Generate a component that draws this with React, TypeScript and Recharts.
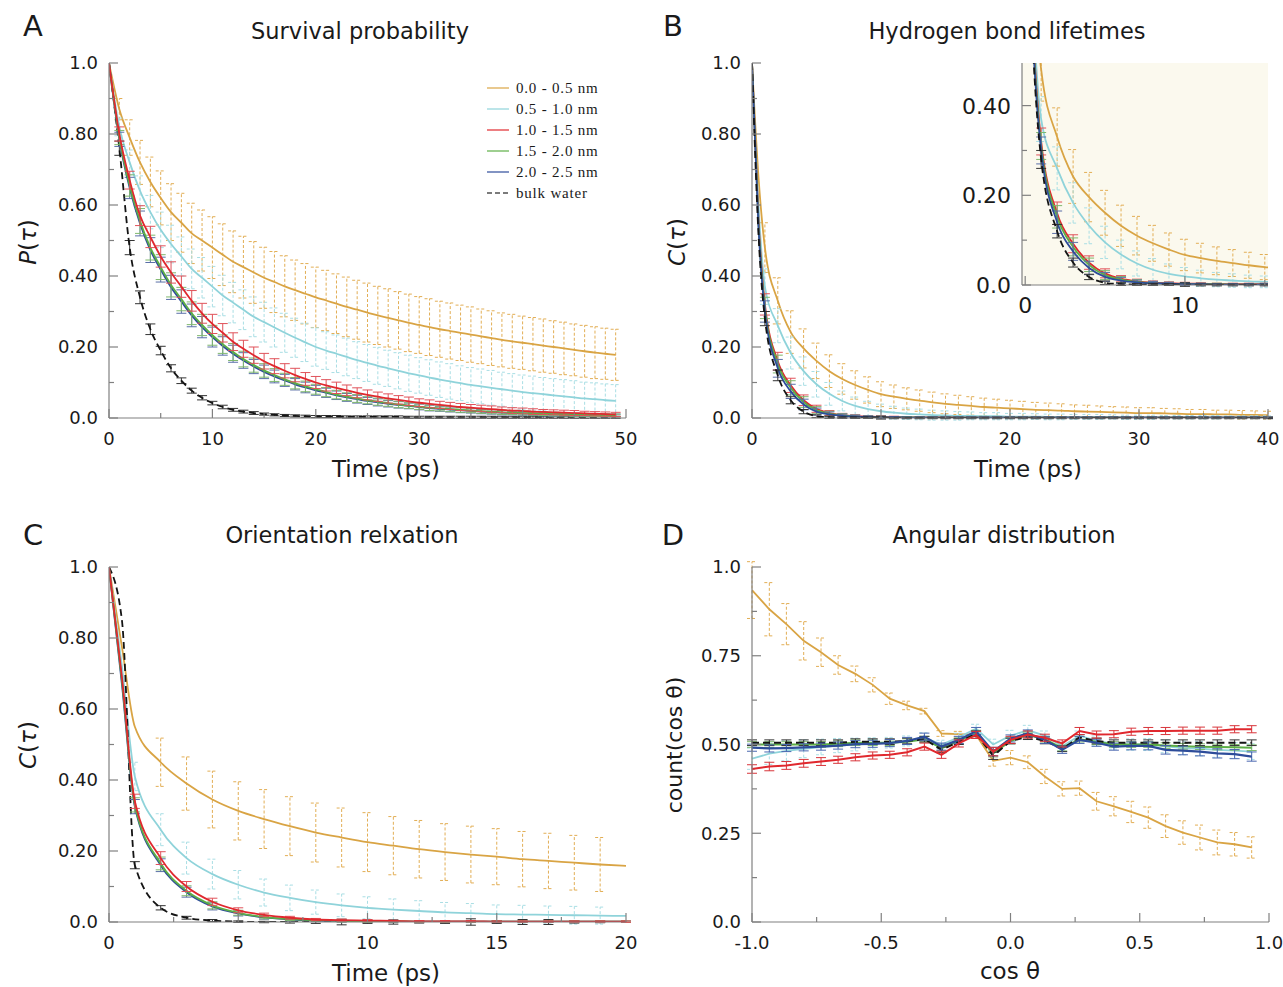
import { LineChart, Line, XAxis, YAxis, ErrorBar, CartesianGrid } from "recharts";

const AXIS = "#808080";
const INK = "#1a1a1a";
const SANS = '"DejaVu Sans", sans-serif';
const SERIF = '"Liberation Serif", serif';

const ORANGE = "#d9a444";
const CYAN = "#8fd3da";
const RED = "#e0282e";
const GREEN = "#5cae45";
const BLUE = "#2d4c9a";
const BULK = "#141414";

const seriesNames = ["0.0 - 0.5 nm", "0.5 - 1.0 nm", "1.0 - 1.5 nm", "1.5 - 2.0 nm", "2.0 - 2.5 nm", "bulk water"];

// ---- A: survival probability ----
const aTime = [0,1,2,3,4,5,6,7,8,9,10,11,12,13,14,15,16,17,18,19,20,21,22,23,24,25,26,27,28,29,30,31,32,33,34,35,36,37,38,39,40,41,42,43,44,45,46,47,48,49];
const aOrange = [1.0,0.87,0.79,0.72,0.665,0.62,0.58,0.55,0.52,0.5,0.48,0.46,0.44,0.425,0.41,0.395,0.383,0.371,0.36,0.35,0.34,0.331,0.322,0.313,0.305,0.297,0.289,0.282,0.275,0.268,0.262,0.256,0.25,0.245,0.24,0.235,0.23,0.225,0.22,0.216,0.212,0.208,0.204,0.2,0.196,0.192,0.188,0.184,0.181,0.178];
const aOrangeErr = [0,0.03,0.05,0.062,0.07,0.076,0.08,0.083,0.085,0.086,0.087,0.087,0.087,0.087,0.087,0.086,0.086,0.086,0.085,0.085,0.085,0.085,0.084,0.084,0.083,0.083,0.082,0.082,0.081,0.081,0.08,0.08,0.079,0.079,0.078,0.078,0.077,0.077,0.076,0.076,0.075,0.075,0.075,0.074,0.074,0.073,0.073,0.073,0.072,0.072];
const aCyan = [1.0,0.82,0.72,0.64,0.58,0.53,0.49,0.455,0.42,0.395,0.37,0.345,0.325,0.305,0.285,0.27,0.255,0.24,0.226,0.213,0.2,0.19,0.181,0.172,0.163,0.155,0.147,0.14,0.133,0.126,0.12,0.114,0.108,0.103,0.098,0.093,0.089,0.085,0.081,0.077,0.073,0.07,0.067,0.064,0.061,0.058,0.055,0.053,0.05,0.048];
const aCyanErr = [0,0.025,0.035,0.042,0.047,0.05,0.053,0.055,0.056,0.057,0.057,0.057,0.057,0.056,0.056,0.056,0.055,0.055,0.055,0.054,0.054,0.053,0.053,0.053,0.052,0.052,0.052,0.051,0.051,0.051,0.05,0.05,0.05,0.05,0.049,0.049,0.049,0.049,0.048,0.048,0.048,0.048,0.047,0.047,0.047,0.047,0.046,0.046,0.046,0.046];
const aRed = [1.0,0.8,0.67,0.57,0.51,0.455,0.41,0.37,0.33,0.295,0.265,0.24,0.215,0.195,0.177,0.16,0.146,0.133,0.121,0.11,0.1,0.092,0.085,0.078,0.071,0.065,0.06,0.055,0.051,0.047,0.043,0.04,0.037,0.034,0.031,0.029,0.027,0.025,0.023,0.021,0.02,0.018,0.017,0.016,0.015,0.014,0.013,0.012,0.011,0.01];
const aRedErr = [0,0.02,0.025,0.028,0.03,0.03,0.03,0.03,0.029,0.028,0.027,0.026,0.025,0.024,0.023,0.022,0.021,0.02,0.019,0.018,0.017,0.016,0.016,0.015,0.014,0.014,0.013,0.013,0.012,0.012,0.011,0.011,0.01,0.01,0.01,0.009,0.009,0.009,0.008,0.008,0.008,0.008,0.007,0.007,0.007,0.007,0.006,0.006,0.006,0.006];
const aGreen = [1.0,0.79,0.655,0.555,0.48,0.425,0.375,0.335,0.295,0.262,0.233,0.208,0.186,0.166,0.149,0.134,0.121,0.109,0.098,0.089,0.081,0.073,0.066,0.06,0.055,0.05,0.046,0.042,0.038,0.035,0.032,0.029,0.027,0.025,0.023,0.021,0.019,0.018,0.016,0.015,0.014,0.013,0.012,0.011,0.01,0.009,0.009,0.008,0.008,0.007];
const aBlue = [1.0,0.785,0.648,0.548,0.473,0.418,0.368,0.328,0.289,0.256,0.228,0.203,0.181,0.162,0.145,0.13,0.117,0.106,0.095,0.086,0.078,0.071,0.064,0.058,0.053,0.048,0.044,0.04,0.037,0.034,0.031,0.028,0.026,0.024,0.022,0.02,0.018,0.017,0.015,0.014,0.013,0.012,0.011,0.01,0.01,0.009,0.008,0.008,0.007,0.007];
const aInnerErr = [0,0.02,0.03,0.035,0.035,0.035,0.034,0.033,0.032,0.03,0.028,0.026,0.024,0.022,0.02,0.019,0.018,0.017,0.016,0.015,0.014,0.013,0.012,0.011,0.011,0.01,0.01,0.009,0.009,0.008,0.008,0.008,0.007,0.007,0.007,0.006,0.006,0.006,0.006,0.005,0.005,0.005,0.005,0.005,0.004,0.004,0.004,0.004,0.004,0.004];
const aBulk = [1.0,0.76,0.48,0.34,0.25,0.19,0.14,0.105,0.077,0.057,0.042,0.031,0.023,0.018,0.014,0.011,0.009,0.007,0.006,0.005,0.004,0.004,0.004,0.003,0.003,0.003,0.003,0.003,0.003,0.002,0.002,0.002,0.002,0.002,0.002,0.002,0.002,0.002,0.002,0.002,0.002,0.002,0.002,0.002,0.002,0.002,0.002,0.002,0.002,0.002];
const aBulkErr = [0,0.02,0.02,0.018,0.015,0.012,0.01,0.008,0.007,0.006,0.005,0.005,0.004,0.004,0.004,0.003,0.003,0.003,0.003,0.003,0.003,0.003,0.003,0.003,0.003,0.003,0.003,0.003,0.003,0.003,0.003,0.003,0.003,0.003,0.003,0.003,0.003,0.003,0.003,0.003,0.003,0.003,0.003,0.003,0.003,0.003,0.003,0.003,0.003,0.003];

// ---- B: hydrogen bond lifetimes ----
const bTime = [0,0.5,1,2,3,4,5,6,7,8,9,10,11,12,13,14,15,16,17,18,19,20,21,22,23,24,25,26,27,28,29,30,31,32,33,34,35,36,37,38,39,40];
const bOrange = [1.0,0.68,0.48,0.33,0.242,0.196,0.161,0.132,0.11,0.093,0.079,0.067,0.06,0.054,0.049,0.044,0.04,0.037,0.034,0.031,0.029,0.027,0.025,0.023,0.022,0.021,0.019,0.018,0.017,0.016,0.015,0.014,0.014,0.013,0.012,0.011,0.011,0.01,0.01,0.009,0.009,0.008];
const bOrangeErr = [0,0,0.07,0.065,0.06,0.055,0.05,0.046,0.043,0.04,0.037,0.035,0.033,0.031,0.03,0.029,0.028,0.027,0.026,0.025,0.024,0.023,0.022,0.021,0.02,0.019,0.018,0.018,0.017,0.016,0.016,0.015,0.015,0.014,0.014,0.013,0.013,0.012,0.012,0.012,0.011,0.011];
const bCyan = [1.0,0.6,0.37,0.26,0.183,0.132,0.095,0.068,0.048,0.034,0.025,0.019,0.015,0.012,0.01,0.008,0.007,0.006,0.006,0.005,0.005,0.004,0.004,0.004,0.003,0.003,0.003,0.003,0.003,0.003,0.002,0.002,0.002,0.002,0.002,0.002,0.002,0.002,0.002,0.002,0.002,0.002];
const bCyanErr = [0,0,0.05,0.048,0.045,0.04,0.036,0.032,0.028,0.025,0.022,0.02,0.018,0.016,0.015,0.014,0.013,0.012,0.011,0.01,0.01,0.009,0.009,0.008,0.008,0.008,0.007,0.007,0.007,0.006,0.006,0.006,0.006,0.005,0.005,0.005,0.005,0.005,0.004,0.004,0.004,0.004];
const bRed = [1.0,0.56,0.32,0.16,0.092,0.05,0.026,0.014,0.008,0.005,0.004,0.003,0.003,0.002,0.002,0.002,0.002,0.001,0.001,0.001,0.001,0.001,0.001,0.001,0.001,0.001,0.001,0.001,0.001,0.001,0.001,0.001,0.001,0.001,0.001,0.001,0.001,0.001,0.001,0.001,0.001,0.001];
const bGreen = [1.0,0.55,0.31,0.152,0.085,0.045,0.022,0.012,0.007,0.004,0.003,0.002,0.002,0.002,0.001,0.001,0.001,0.001,0.001,0.001,0.001,0.001,0.001,0.001,0.001,0.001,0.001,0.001,0.001,0.001,0.001,0.001,0.001,0.001,0.001,0.001,0.001,0.001,0.001,0.001,0.001,0.001];
const bBlue = [1.0,0.54,0.3,0.14,0.075,0.038,0.018,0.01,0.006,0.004,0.003,0.002,0.002,0.001,0.001,0.001,0.001,0.001,0.001,0.001,0.001,0.001,0.001,0.001,0.001,0.001,0.001,0.001,0.001,0.001,0.001,0.001,0.001,0.001,0.001,0.001,0.001,0.001,0.001,0.001,0.001,0.001];
const bInnerErr = [0,0,0.03,0.025,0.02,0.015,0.01,0.007,0.005,0.004,0.003,0.003,0.002,0.002,0.002,0.002,0.002,0.002,0.002,0.002,0.002,0.002,0.002,0.002,0.002,0.002,0.002,0.002,0.002,0.002,0.002,0.002,0.002,0.002,0.002,0.002,0.002,0.002,0.002,0.002,0.002,0.002];
const bBulk = [1.0,0.52,0.28,0.12,0.05,0.018,0.005,0.002,0.001,0.001,0.001,0.001,0,0,0,0,0,0,0,0,0,0,0,0,0,0,0,0,0,0,0,0,0,0,0,0,0,0,0,0,0,0];
const bBulkErr = [0,0,0.02,0.015,0.01,0.006,0.004,0.003,0.002,0.002,0.002,0.004,0.002,0.002,0.002,0.002,0.002,0.002,0.002,0.002,0.002,0.002,0.002,0.002,0.002,0.002,0.002,0.002,0.002,0.002,0.002,0.002,0.002,0.002,0.002,0.002,0.002,0.002,0.002,0.002,0.002,0.002];

// ---- C: orientation relaxation ----
const cTime = [0,0.5,1,2,3,4,5,6,7,8,9,10,11,12,13,14,15,16,17,18,19,20];
const cOrange = [1.0,0.775,0.55,0.45,0.39,0.345,0.313,0.29,0.27,0.252,0.238,0.225,0.215,0.205,0.197,0.19,0.184,0.177,0.172,0.167,0.162,0.158];
const cOrangeErr = [0,0,0,0.068,0.075,0.08,0.082,0.083,0.083,0.083,0.083,0.083,0.082,0.081,0.08,0.08,0.079,0.078,0.078,0.077,0.076,0];
const cCyan = [1.0,0.72,0.41,0.26,0.18,0.135,0.105,0.083,0.068,0.056,0.047,0.04,0.035,0.031,0.027,0.025,0.022,0.021,0.02,0.019,0.018,0.017];
const cCyanErr = [0,0,0.04,0.045,0.045,0.042,0.04,0.038,0.036,0.034,0.032,0.031,0.03,0.029,0.028,0.027,0.026,0.026,0.025,0.025,0.024,0];
const cRed = [1.0,0.69,0.34,0.18,0.1,0.057,0.033,0.02,0.012,0.007,0.005,0.004,0.003,0.002,0.002,0.002,0.001,0.001,0.001,0.001,0.001,0.001];
const cGreen = [1.0,0.68,0.33,0.165,0.088,0.047,0.026,0.014,0.008,0.005,0.003,0.002,0.002,0.001,0.001,0.001,0.001,0.001,0.001,0.001,0.001,0.001];
const cBlue = [1.0,0.67,0.325,0.16,0.084,0.044,0.024,0.013,0.007,0.004,0.003,0.002,0.001,0.001,0.001,0.001,0.001,0.001,0.001,0.001,0.001,0.001];
const cInnerErr = [0,0,0.02,0.018,0.014,0.01,0.007,0.005,0.004,0.003,0.003,0.003,0.002,0.002,0.002,0.002,0.002,0.002,0.002,0.002,0.002,0.002];
const cBulk = [1.0,0.85,0.16,0.04,0.012,0.004,0.001,0,0,0,0,0,0,0,0,0,0,0,0,0,0,0];
const cBulkErr = [0,0,0.01,0.006,0.004,0.003,0.002,0.002,0.003,0.004,0.008,0.004,0.006,0.003,0.004,0.009,0.004,0.007,0.007,0.003,0.002,0];

// ---- D: angular distribution ----
const dCos = [-1.0,-0.933,-0.867,-0.8,-0.733,-0.667,-0.6,-0.533,-0.467,-0.4,-0.333,-0.267,-0.2,-0.133,-0.067,0.0,0.067,0.133,0.2,0.267,0.333,0.4,0.467,0.533,0.6,0.667,0.733,0.8,0.867,0.933];
const dOrange = [0.935,0.881,0.839,0.792,0.76,0.724,0.699,0.668,0.629,0.61,0.594,0.531,0.529,0.527,0.454,0.463,0.45,0.41,0.375,0.377,0.34,0.326,0.31,0.294,0.27,0.252,0.238,0.224,0.219,0.21];
const dOrangeErr = [0.08,0.075,0.058,0.054,0.04,0.026,0.022,0.02,0.016,0.012,0.008,0.008,0.008,0.01,0.015,0.02,0.018,0.02,0.02,0.02,0.025,0.027,0.03,0.03,0.032,0.033,0.035,0.035,0.033,0.03];
const dCyan = [0.46,0.474,0.482,0.488,0.493,0.497,0.5,0.503,0.505,0.51,0.52,0.5,0.52,0.545,0.5,0.525,0.54,0.525,0.495,0.525,0.51,0.502,0.5,0.5,0.495,0.49,0.488,0.485,0.483,0.48];
const dCyanErr = [0.03,0.03,0.028,0.025,0.022,0.02,0.018,0.016,0.015,0.014,0.013,0.012,0.012,0.012,0.015,0.015,0.014,0.013,0.013,0.013,0.014,0.015,0.016,0.017,0.018,0.019,0.02,0.021,0.022,0.022];
const dRed = [0.431,0.438,0.441,0.447,0.452,0.457,0.464,0.469,0.471,0.478,0.494,0.471,0.503,0.527,0.48,0.513,0.528,0.519,0.503,0.538,0.528,0.529,0.536,0.538,0.538,0.539,0.539,0.539,0.543,0.543];
const dRedErr = [0.012,0.012,0.011,0.011,0.011,0.01,0.01,0.01,0.01,0.01,0.01,0.01,0.01,0.01,0.012,0.01,0.01,0.01,0.01,0.01,0.01,0.01,0.01,0.01,0.01,0.01,0.01,0.01,0.01,0.01];
const dGreen = [0.5,0.5,0.5,0.5,0.5,0.502,0.505,0.505,0.505,0.508,0.515,0.49,0.51,0.532,0.475,0.51,0.527,0.515,0.49,0.515,0.508,0.5,0.5,0.5,0.497,0.495,0.494,0.493,0.492,0.491];
const dGreenErr = [0.008,0.008,0.008,0.008,0.008,0.008,0.008,0.008,0.008,0.008,0.008,0.008,0.008,0.008,0.01,0.008,0.008,0.008,0.008,0.008,0.008,0.008,0.008,0.008,0.008,0.008,0.008,0.008,0.008,0.008];
const dBlue = [0.491,0.489,0.49,0.492,0.494,0.497,0.501,0.502,0.504,0.51,0.522,0.494,0.513,0.538,0.48,0.517,0.531,0.513,0.485,0.513,0.505,0.494,0.496,0.496,0.485,0.483,0.48,0.475,0.473,0.466];
const dBlueErr = [0.01,0.01,0.01,0.01,0.01,0.01,0.01,0.01,0.01,0.01,0.01,0.01,0.01,0.01,0.012,0.01,0.01,0.01,0.01,0.01,0.01,0.01,0.011,0.011,0.012,0.012,0.012,0.013,0.013,0.013];
const dBulk = [0.505,0.505,0.505,0.505,0.505,0.505,0.508,0.508,0.508,0.51,0.515,0.485,0.508,0.53,0.468,0.51,0.522,0.51,0.488,0.52,0.51,0.505,0.505,0.505,0.505,0.505,0.505,0.505,0.505,0.505];

// ---- ticks ----
const aXTicks = [0,5,10,15,20,25,30,35,40,45,50];
const bXTicks = [0,5,10,15,20,25,30,35,40];
const cXTicks = [0,2.5,5,7.5,10,12.5,15,17.5,20];
const dXTicks = [-1,-0.75,-0.5,-0.25,0,0.25,0.5,0.75,1];
const pYTicks = [0,0.1,0.2,0.3,0.4,0.5,0.6,0.7,0.8,0.9,1.0];
const dYTicks = [0,0.125,0.25,0.375,0.5,0.625,0.75,0.875,1.0];
const insetXTicks = [0,5,10,15];
const insetYTicks = [0,0.1,0.2,0.3,0.4];

type Row = { x: number; y: number; e: number };
type Series = { color: string; errColor: string; data: Row[]; dash?: string; errDash?: string; width?: number };

const rows = (xs: number[], ys: number[], es: number[]): Row[] =>
  xs.map((x, i) => ({ x, y: ys[i], e: es[i] ?? 0 }));

const isMajor = (v: number, step: number) => Math.abs(v / step - Math.round(v / step)) < 1e-6;
const fmtTime = (v: number) => String(v);
const fmtP = (v: number) => (v === 0 || v === 1 ? v.toFixed(1) : v.toFixed(2));
const fmtCos = (v: number) => v.toFixed(1);

function xTick(step: number, fmt: (v: number) => string, side: "bottom" | "top", size = 18, gap = 14) {
  return (p: any) => {
    const { x, y, payload } = p;
    const major = isMajor(payload.value, step);
    const len = major ? 9 : 5;
    const dir = side === "bottom" ? -1 : 1;
    return (
      <g>
        <line x1={x} x2={x} y1={y} y2={y + dir * len} stroke={AXIS} strokeWidth={1.2} />
        {side === "bottom" && major && (
          <text x={x} y={y + gap} dy="0.71em" textAnchor="middle" fontFamily={SANS} fontSize={size} fill={INK}>
            {fmt(payload.value)}
          </text>
        )}
      </g>
    );
  };
}

function yTick(step: number, fmt: (v: number) => string, side: "left" | "right", size = 18, gap = 11) {
  return (p: any) => {
    const { x, y, payload } = p;
    const major = isMajor(payload.value, step);
    const len = major ? 9 : 5;
    const dir = side === "left" ? 1 : -1;
    return (
      <g>
        <line x1={x} x2={x + dir * len} y1={y} y2={y} stroke={AXIS} strokeWidth={1.2} />
        {side === "left" && major && (
          <text x={x - gap} y={y} dy="0.36em" textAnchor="end" fontFamily={SANS} fontSize={size} fill={INK}>
            {fmt(payload.value)}
          </text>
        )}
      </g>
    );
  };
}

type PanelProps = {
  left: number; top: number; width: number; height: number;
  mTop: number; mRight: number; yW: number; xH: number;
  xDomain: [number, number]; yDomain: [number, number];
  xTicks: number[]; yTicks: number[]; xStep: number; yStep: number;
  xFmt: (v: number) => string; yFmt: (v: number) => string;
  series: Series[]; curve: "monotone" | "linear";
  box?: boolean; fill?: string; labelSize?: number; xGap?: number; clip?: string;
};

function Panel(p: PanelProps) {
  const axisLine = { stroke: AXIS, strokeWidth: 1.2 };
  const size = p.labelSize ?? 18;
  return (
    <div style={{ position: "absolute", left: p.left, top: p.top, clipPath: p.clip }}>
      <LineChart width={p.width} height={p.height} margin={{ top: p.mTop, right: p.mRight, bottom: 0, left: 0 }}>
        {p.fill && <CartesianGrid fill={p.fill} fillOpacity={1} horizontal={false} vertical={false} />}
        <XAxis xAxisId={0} type="number" dataKey="x" domain={p.xDomain} allowDataOverflow ticks={p.xTicks} interval={0}
          height={p.xH} tickSize={0} tickMargin={0} tickLine={false} axisLine={axisLine}
          tick={xTick(p.xStep, p.xFmt, "bottom", size, p.xGap ?? 14)} />
        <YAxis yAxisId={0} type="number" domain={p.yDomain} allowDataOverflow ticks={p.yTicks} interval={0}
          width={p.yW} tickSize={0} tickMargin={0} tickLine={false} axisLine={axisLine}
          tick={yTick(p.yStep, p.yFmt, "left", size)} />
        {p.box && (
          <XAxis xAxisId="t" orientation="top" type="number" domain={p.xDomain} allowDataOverflow ticks={p.xTicks}
            interval={0} height={0} tickSize={0} tickMargin={0} tickLine={false} axisLine={axisLine}
            tick={xTick(p.xStep, p.xFmt, "top")} />
        )}
        {p.box && (
          <YAxis yAxisId="r" orientation="right" type="number" domain={p.yDomain} allowDataOverflow ticks={p.yTicks}
            interval={0} width={0} tickSize={0} tickMargin={0} tickLine={false} axisLine={axisLine}
            tick={yTick(p.yStep, p.yFmt, "right")} />
        )}
        {p.series.map((s, i) => (
          <Line key={i} data={s.data} dataKey="y" type={p.curve} stroke={s.color} strokeWidth={s.width ?? 1.8}
            strokeDasharray={s.dash} dot={false} activeDot={false} isAnimationActive={false}>
            <ErrorBar dataKey="e" width={5} stroke={s.errColor} strokeWidth={1} strokeDasharray={s.errDash} />
          </Line>
        ))}
      </LineChart>
    </div>
  );
}

const seriesA: Series[] = [
  { color: ORANGE, errColor: "#e2ae55", errDash: "3 2", data: rows(aTime, aOrange, aOrangeErr) },
  { color: CYAN, errColor: "#a9dee4", errDash: "3 2", data: rows(aTime, aCyan, aCyanErr) },
  { color: BULK, errColor: "#333", dash: "7 4", data: rows(aTime, aBulk, aBulkErr) },
  { color: BLUE, errColor: "#5a6fa8", data: rows(aTime, aBlue, aInnerErr) },
  { color: GREEN, errColor: "#7fb86d", data: rows(aTime, aGreen, aInnerErr) },
  { color: RED, errColor: "#e0525a", data: rows(aTime, aRed, aRedErr) },
];

const seriesB: Series[] = [
  { color: ORANGE, errColor: "#e2ae55", errDash: "3 2", data: rows(bTime, bOrange, bOrangeErr) },
  { color: CYAN, errColor: "#a9dee4", errDash: "3 2", data: rows(bTime, bCyan, bCyanErr) },
  { color: RED, errColor: "#e0525a", data: rows(bTime, bRed, bInnerErr) },
  { color: GREEN, errColor: "#7fb86d", data: rows(bTime, bGreen, bInnerErr) },
  { color: BLUE, errColor: "#5a6fa8", data: rows(bTime, bBlue, bInnerErr) },
  { color: BULK, errColor: "#333", dash: "7 4", data: rows(bTime, bBulk, bBulkErr) },
];

const seriesC: Series[] = [
  { color: ORANGE, errColor: "#e2ae55", errDash: "3 2", data: rows(cTime, cOrange, cOrangeErr) },
  { color: CYAN, errColor: "#a9dee4", errDash: "3 2", data: rows(cTime, cCyan, cCyanErr) },
  { color: BULK, errColor: "#333", dash: "7 4", data: rows(cTime, cBulk, cBulkErr) },
  { color: BLUE, errColor: "#5a6fa8", data: rows(cTime, cBlue, cInnerErr) },
  { color: GREEN, errColor: "#7fb86d", data: rows(cTime, cGreen, cInnerErr) },
  { color: RED, errColor: "#e0525a", data: rows(cTime, cRed, cInnerErr) },
];

const seriesD: Series[] = [
  { color: ORANGE, errColor: "#e2ae55", errDash: "3 2", data: rows(dCos, dOrange, dOrangeErr) },
  { color: CYAN, errColor: "#a9dee4", errDash: "3 2", data: rows(dCos, dCyan, dCyanErr) },
  { color: GREEN, errColor: "#7fb86d", data: rows(dCos, dGreen, dGreenErr), width: 2 },
  { color: BULK, errColor: "#333", dash: "7 4", data: rows(dCos, dBulk, dGreenErr), width: 2 },
  { color: BLUE, errColor: "#4a67b0", data: rows(dCos, dBlue, dBlueErr), width: 2.2 },
  { color: RED, errColor: "#d8343a", data: rows(dCos, dRed, dRedErr), width: 2 },
];

const legendColors = [ORANGE, CYAN, RED, GREEN, BLUE, BULK];

function Labels() {
  const t = { fontFamily: SANS, fill: INK } as const;
  const tau = (letter: string, x: number, y: number) => (
    <text transform={`translate(${x},${y}) rotate(-90)`} textAnchor="middle" dominantBaseline="central" fontSize={23} {...t}>
      <tspan fontStyle="italic">{letter}</tspan>(<tspan fontStyle="italic">τ</tspan>)
    </text>
  );
  return (
    <svg width={1283} height={987} style={{ position: "absolute", left: 0, top: 0, pointerEvents: "none" }}>
      <text x={33} y={36} fontSize={29} textAnchor="middle" {...t}>A</text>
      <text x={673} y={36} fontSize={29} textAnchor="middle" {...t}>B</text>
      <text x={33} y={545} fontSize={29} textAnchor="middle" {...t}>C</text>
      <text x={673} y={545} fontSize={29} textAnchor="middle" {...t}>D</text>

      <text x={360} y={39} fontSize={22.5} textAnchor="middle" {...t}>Survival probability</text>
      <text x={1007} y={39} fontSize={22.5} textAnchor="middle" {...t}>Hydrogen bond lifetimes</text>
      <text x={342} y={543} fontSize={22.5} textAnchor="middle" {...t}>Orientation relxation</text>
      <text x={1004} y={543} fontSize={22.5} textAnchor="middle" {...t}>Angular distribution</text>

      <text x={386} y={477} fontSize={23} textAnchor="middle" {...t}>Time (ps)</text>
      <text x={1028} y={477} fontSize={23} textAnchor="middle" {...t}>Time (ps)</text>
      <text x={386} y={981} fontSize={23} textAnchor="middle" {...t}>Time (ps)</text>
      <text x={1010} y={979} fontSize={23} textAnchor="middle" {...t}>cos θ</text>

      {tau("P", 28, 242)}
      {tau("C", 677, 242)}
      {tau("C", 28, 745)}
      <text transform="translate(674,745) rotate(-90)" textAnchor="middle" dominantBaseline="central" fontSize={22} {...t}>
        count(cos θ)
      </text>

      {seriesNames.map((n, i) => (
        <g key={n}>
          <line x1={487} x2={509} y1={88 + 21 * i} y2={88 + 21 * i} stroke={legendColors[i]} strokeOpacity={0.75}
            strokeWidth={1.6} strokeDasharray={i === 5 ? "5 3" : undefined} />
          <text x={516} y={93 + 21 * i} fontFamily={SERIF} fontSize={15} letterSpacing={0.8} fill={INK}>{n}</text>
        </g>
      ))}
    </svg>
  );
}

export default function App() {
  return (
    <div style={{ position: "absolute", left: 0, top: 0, width: 1283, height: 987, background: "#fff", overflow: "hidden" }}>
      <Panel left={0} top={0} width={640} height={490} mTop={63} mRight={14} yW={109} xH={72}
        xDomain={[0, 50]} yDomain={[0, 1]} xTicks={aXTicks} yTicks={pYTicks} xStep={10} yStep={0.2}
        xFmt={fmtTime} yFmt={fmtP} series={seriesA} curve="monotone" box />

      {/* inset sits under panel B so B's frame ticks stay visible on top */}
      <Panel left={940} top={40} width={340} height={300} mTop={23} mRight={12} yW={82} xH={55}
        xDomain={[-0.2, 15.2]} yDomain={[0, 0.495]} xTicks={insetXTicks} yTicks={insetYTicks} xStep={10} yStep={0.2}
        xFmt={fmtTime} yFmt={(v) => (v === 0 ? "0.0" : v.toFixed(2))} series={seriesB} curve="monotone"
        fill="#fbf9ee" labelSize={22} xGap={12} clip="inset(23px 12px 0px 0px)" />

      <Panel left={640} top={0} width={640} height={490} mTop={63} mRight={12} yW={112} xH={72}
        xDomain={[0, 40]} yDomain={[0, 1]} xTicks={bXTicks} yTicks={pYTicks} xStep={10} yStep={0.2}
        xFmt={fmtTime} yFmt={fmtP} series={seriesB} curve="monotone" box />

      <Panel left={0} top={500} width={640} height={480} mTop={67} mRight={14} yW={109} xH={58}
        xDomain={[0, 20]} yDomain={[0, 1]} xTicks={cXTicks} yTicks={pYTicks} xStep={5} yStep={0.2}
        xFmt={fmtTime} yFmt={fmtP} series={seriesC} curve="monotone" box />

      <Panel left={640} top={500} width={643} height={480} mTop={67} mRight={14} yW={112} xH={58}
        xDomain={[-1, 1]} yDomain={[0, 1]} xTicks={dXTicks} yTicks={dYTicks} xStep={0.5} yStep={0.25}
        xFmt={fmtCos} yFmt={fmtP} series={seriesD} curve="linear" box />

      <Labels />
    </div>
  );
}
